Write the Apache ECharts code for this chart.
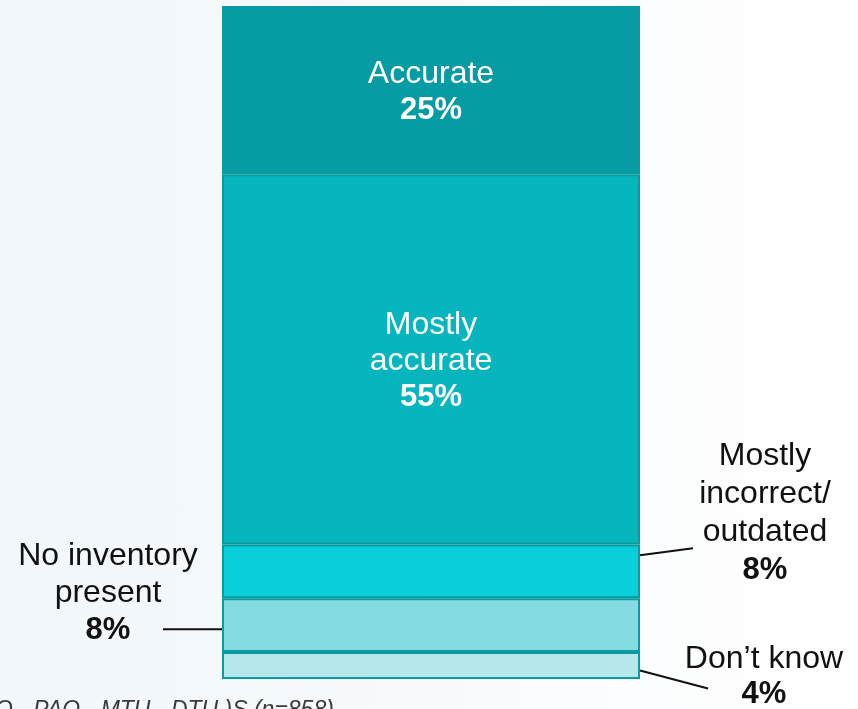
<!DOCTYPE html>
<html>
<head>
<meta charset="utf-8">
<script src="https://cdn.jsdelivr.net/npm/echarts@6/dist/echarts.min.js"></script>
<style>
  html, body { margin: 0; padding: 0; }
  #chart {
    width: 858px; height: 709px;
    background: linear-gradient(90deg, #F2F7FB 0%, #F5F9FC 40%, #FCFDFE 75%, #FFFFFF 100%);
  }
</style>
</head>
<body>
<div id="chart"></div>
<script>
// Inventory accuracy: one 100% stacked column, stacked bottom to top
const categories = ['Inventory'];
const segmentNames = ['Don’t know', 'No inventory present', 'Mostly incorrect/ outdated', 'Mostly accurate', 'Accurate'];
const segmentValues = [4, 8, 8, 55, 25];
const footnote = 'Q - PAQ - MTU - DTU )S (n=858)';

// fills, bottom to top
const segmentColors = ['#B6E7EA', '#84DCE2', '#0BCFD8', '#07B5BE', '#079BA3'];
const FONT = '"Liberation Sans", Arial, sans-serif';

const GRID = { left: 222, right: 218, top: 6, bottom: 30 };

const chart = echarts.init(document.getElementById('chart'), null, { renderer: 'canvas' });

const innerLabel = (lines, pct) => ({
  show: true,
  position: 'inside',
  offset: [0, 2],
  color: '#FFFFFF',
  fontFamily: FONT,
  fontSize: 32,
  lineHeight: 36,
  formatter: lines + '\n{b|' + pct + '%}',
  rich: { b: { fontWeight: 'bold', fontSize: 31, lineHeight: 36, color: '#FFFFFF', fontFamily: FONT } }
});

const series = segmentNames.map((name, i) => ({
  type: 'bar',
  name: name,
  stack: 'total',
  barWidth: '100%',
  data: [segmentValues[i]],
  itemStyle: { color: segmentColors[i], borderColor: '#0A9AA2', borderWidth: 2 },
  label: i === 3 ? innerLabel('Mostly\naccurate', segmentValues[i])
       : i === 4 ? innerLabel('Accurate', segmentValues[i])
       : { show: false },
  emphasis: { disabled: true },
  silent: true
}));

chart.setOption({
  animation: false,
  grid: GRID,
  xAxis: { type: 'category', data: categories, show: false },
  yAxis: { type: 'value', min: 0, max: 100, show: false },
  series: series
});

// vertical pixel of the middle of segment i
function segMid(i) {
  const base = segmentValues.slice(0, i).reduce((a, b) => a + b, 0);
  return chart.convertToPixel({ gridIndex: 0 }, [0, base + segmentValues[i] / 2])[1];
}
const barLeft = GRID.left;
const barRight = 858 - GRID.right;

const calloutText = (x, y, lines, pct, lh) => ({
  type: 'text',
  x: x, y: y,
  silent: true,
  style: {
    text: lines + '\n{b|' + pct + '%}',
    align: 'center',
    verticalAlign: 'top',
    fill: '#111111',
    font: '32px ' + FONT,
    lineHeight: lh,
    rich: { b: { fontWeight: 'bold', fontSize: 31, lineHeight: lh, fontFamily: FONT, fill: '#111111' } }
  }
});
const leader = (x1, y1, x2, y2) => ({
  type: 'line', silent: true,
  shape: { x1: x1, y1: y1, x2: x2, y2: y2 },
  style: { stroke: '#111111', lineWidth: 2 }
});

const mInc = segMid(2), mNo = segMid(1), mDk = segMid(0);

chart.setOption({
  graphic: [
    calloutText(765, mInc - 134, 'Mostly\nincorrect/\noutdated', segmentValues[2], 38),
    leader(barRight, mInc - 16, barRight + 53, mInc - 23),
    calloutText(108, mNo - 87, 'No inventory\npresent', segmentValues[1], 37),
    leader(barLeft - 59, mNo + 4, barLeft, mNo + 4),
    calloutText(764, mDk - 24, 'Don’t know', segmentValues[0], 35),
    leader(barRight, mDk + 5, barRight + 68, mDk + 23),
    {
      type: 'text', x: -5, y: 699, silent: true,
      style: { text: footnote, fill: '#3A3A3A', font: 'italic 23px ' + FONT, align: 'left', verticalAlign: 'top' }
    }
  ]
});
</script>
</body>
</html>
